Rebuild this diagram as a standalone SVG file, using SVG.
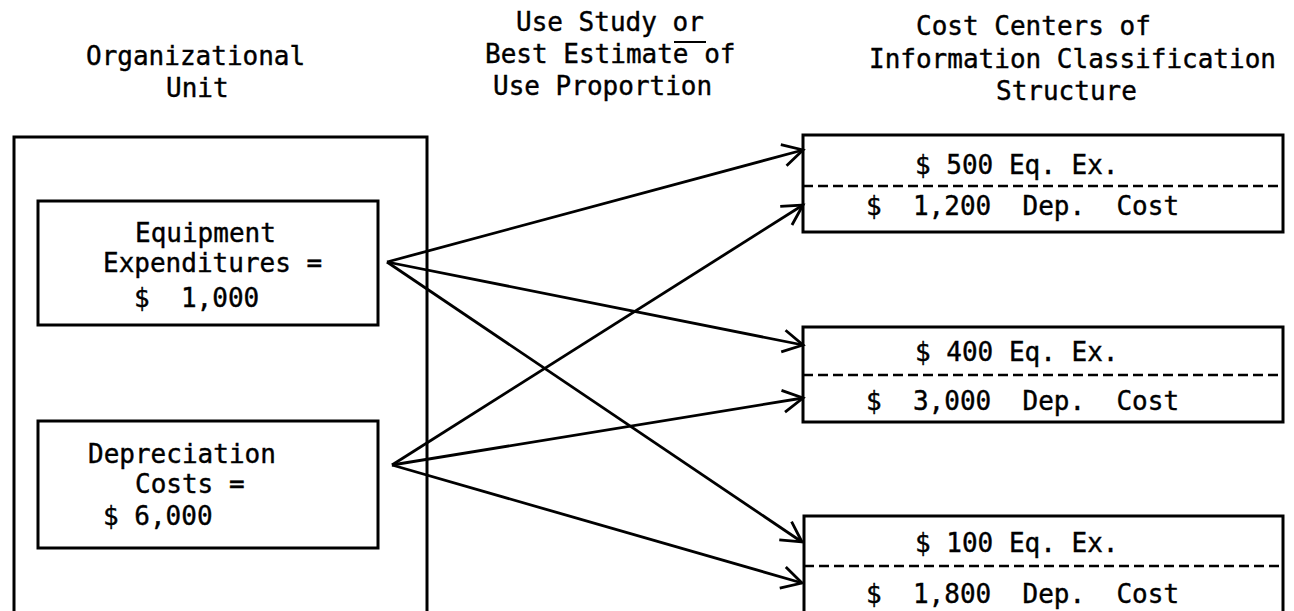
<svg xmlns="http://www.w3.org/2000/svg" width="1294" height="611" viewBox="0 0 1294 611">
<style>
text{font-family:"DejaVu Sans Mono","Liberation Mono",monospace;font-size:26px;fill:#000;stroke:#000;stroke-width:0.4;white-space:pre}
.box{fill:none;stroke:#000;stroke-width:3}
.dash{stroke:#000;stroke-width:2.5;stroke-dasharray:10 5;fill:none}
.conn{stroke:#000;stroke-width:2.8;fill:none;marker-end:url(#ah)}
</style>
<defs>
<marker id="ah" markerUnits="userSpaceOnUse" markerWidth="30" markerHeight="30" viewBox="0 0 30 30" refX="22" refY="15" orient="auto">
<path d="M2,4 L22,15 L2,26" fill="none" stroke="#000" stroke-width="2.8"/>
</marker>
</defs>
<rect width="1294" height="611" fill="#fff"/>
<g id="headers">
<text x="86" y="65">Organizational</text>
<text x="166" y="97">Unit</text>
<text x="516" y="31">Use Study or</text>
<line x1="674" y1="42" x2="706" y2="42" stroke="#000" stroke-width="2"/>
<text x="485" y="63">Best Estimate of</text>
<text x="493" y="95">Use Proportion</text>
<text x="916" y="35">Cost Centers of</text>
<text x="869" y="68">Information Classification</text>
<text x="996" y="100">Structure</text>
</g>
<g id="org-unit">
<rect class="box" x="14" y="137" width="413" height="480"/>
</g>
<g id="equipment">
<rect class="box" x="38" y="201" width="340" height="124"/>
<text x="135" y="242">Equipment</text>
<text x="103" y="272">Expenditures =</text>
<text x="134" y="307">$  1,000</text>
</g>
<g id="depreciation">
<rect class="box" x="38" y="421" width="340" height="127"/>
<text x="88" y="463">Depreciation</text>
<text x="135" y="493">Costs =</text>
<text x="103" y="525">$ 6,000</text>
</g>
<g id="cc1">
<rect class="box" x="803" y="135" width="480" height="97"/>
<line class="dash" x1="803" y1="186" x2="1283" y2="186"/>
<text x="915" y="174">$ 500 Eq. Ex.</text>
<text x="866" y="215">$  1,200  Dep.  Cost</text>
</g>
<g id="cc2">
<rect class="box" x="803" y="327" width="480" height="95"/>
<line class="dash" x1="803" y1="375" x2="1283" y2="375"/>
<text x="915" y="361">$ 400 Eq. Ex.</text>
<text x="866" y="410">$  3,000  Dep.  Cost</text>
</g>
<g id="cc3">
<rect class="box" x="804" y="516" width="479" height="110"/>
<line class="dash" x1="804" y1="566" x2="1283" y2="566"/>
<text x="915" y="552">$ 100 Eq. Ex.</text>
<text x="866" y="603">$  1,800  Dep.  Cost</text>
</g>
<g id="connectors">
<line class="conn" x1="387" y1="262" x2="803" y2="150"/>
<line class="conn" x1="387" y1="262" x2="803" y2="345"/>
<line class="conn" x1="387" y1="262" x2="802" y2="542"/>
<line class="conn" x1="392" y1="465" x2="803" y2="205"/>
<line class="conn" x1="392" y1="465" x2="803" y2="398"/>
<line class="conn" x1="392" y1="465" x2="802" y2="583"/>
</g>
</svg>
